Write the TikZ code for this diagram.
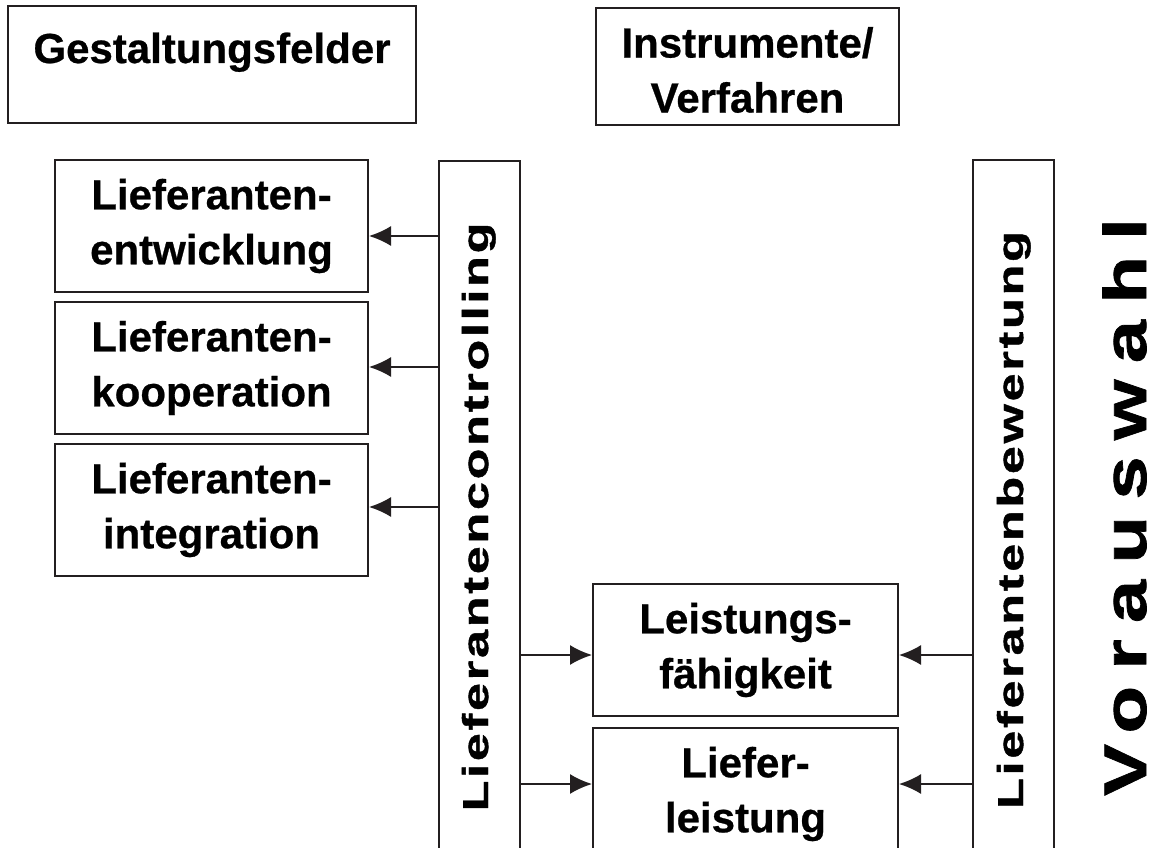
\documentclass[tikz,border=0pt]{standalone}
\usepackage{fontspec}
\setmainfont{Liberation Sans}[BoldFeatures={FakeBold=0.6}]
\newfontfamily\widefont{Liberation Sans}[FakeStretch=1.4,LetterSpace=7.5,BoldFeatures={FakeBold=1.2}]
\newfontfamily\spacedfont{Liberation Sans}[FakeStretch=1.3,LetterSpace=27,BoldFeatures={FakeBold=1.2}]
\usetikzlibrary{arrows.meta}
\definecolor{ink}{RGB}{35,31,32}
\tikzset{
  box/.style={draw=ink, line width=2pt, inner sep=0pt, align=center,
    font=\fontsize{42}{55}\selectfont\bfseries},
  label text/.style={inner sep=0pt, align=center,
    font=\fontsize{42}{55}\selectfont\bfseries},
  column text/.style={inner sep=0pt, rotate=90, anchor=base,
    font=\fontsize{36}{40}\widefont\bfseries},
  side text/.style={inner sep=0pt, rotate=90, anchor=base,
    font=\fontsize{60}{64}\spacedfont\bfseries},
  arr/.style={draw=ink, line width=1.6pt, -{Latex[length=22pt,width=20pt]}}
}
\begin{document}
\begin{tikzpicture}[x=1pt,y=-1pt]
\useasboundingbox (0,0) rectangle (1162,848);

% headings
\node[box, minimum width=408pt, minimum height=117pt] (gest) at (212,64.5) {};
\node[label text, anchor=base] (gestt) at (212,63) {Gestaltungsfelder};
\node[box, minimum width=303pt, minimum height=117pt] (instr) at (747.5,66.5) {};
\node[label text] (instrt) at (747.5,70) {Instrumente/\\Verfahren};

% vertical columns (open towards the bottom edge)
\node[box, minimum width=81pt, minimum height=700pt] (col1) at (479.5,511) {};
\node[box, minimum width=81pt, minimum height=700pt] (col2) at (1013.5,510) {};
\node[column text] (col1t) at (488,517) {Lieferantencontrolling};
\node[column text] (col2t) at (1023,520) {Lieferantenbewertung};

% fields of action
\node[box, minimum width=313pt, minimum height=132pt] (b1) at (211.5,226) {Lieferanten-\\entwicklung};
\node[box, minimum width=313pt, minimum height=132pt] (b2) at (211.5,368) {Lieferanten-\\kooperation};
\node[box, minimum width=313pt, minimum height=132pt] (b3) at (211.5,510) {Lieferanten-\\integration};

% instruments
\node[box, minimum width=305pt, minimum height=132pt] (b4) at (745.5,650) {Leistungs-\\fähigkeit};
\node[box, minimum width=305pt, minimum height=132pt] (b5) at (745.5,794) {Liefer-\\leistung};

% side label
\node[side text] (vw) at (1146,507) {Vorauswahl};

% connector heights
\coordinate (y1) at (0,236);
\coordinate (y2) at (0,367);
\coordinate (y3) at (0,507);
\coordinate (y4) at (0,655);
\coordinate (y5) at (0,784);

\draw[arr] (col1.west |- y1) -- (b1.east |- y1);
\draw[arr] (col1.west |- y2) -- (b2.east |- y2);
\draw[arr] (col1.west |- y3) -- (b3.east |- y3);
\draw[arr] (col1.east |- y4) -- (b4.west |- y4);
\draw[arr] (col1.east |- y5) -- (b5.west |- y5);
\draw[arr] (col2.west |- y4) -- (b4.east |- y4);
\draw[arr] (col2.west |- y5) -- (b5.east |- y5);
\end{tikzpicture}
\end{document}
